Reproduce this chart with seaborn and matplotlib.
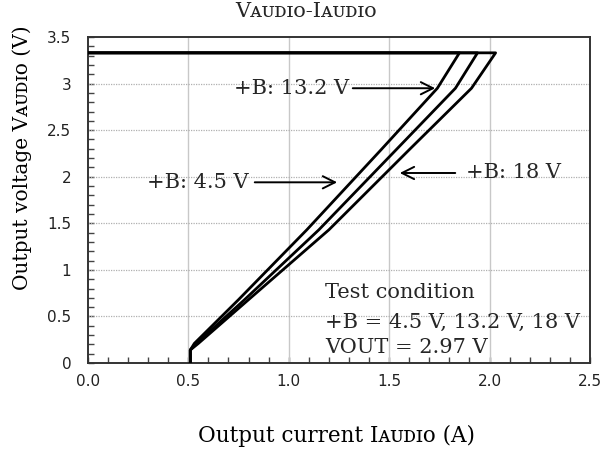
import numpy as np
import pandas as pd
import matplotlib
matplotlib.use("Agg")
import matplotlib.pyplot as plt
import seaborn as sns
from matplotlib.ticker import MultipleLocator, FixedLocator

# ---- data ----
supply_labels = ["+B: 4.5 V", "+B: 13.2 V", "+B: 18 V"]
voltage_v = [3.33, 3.33, 2.95, 2.29, 1.43, 0.68, 0.21, 0.14, 0.0]
current_45 = [0.0, 1.85, 1.74, 1.46, 1.09, 0.75, 0.53, 0.51, 0.51]
current_132 = [0.0, 1.94, 1.83, 1.535, 1.15, 0.78, 0.54, 0.51, 0.51]
current_18 = [0.0, 2.03, 1.91, 1.60, 1.20, 0.80, 0.55, 0.51, 0.51]
x_ticks = [0.0, 0.5, 1.0, 1.5, 2.0, 2.5]
x_tick_labels = ["0.0", "0.5", "1.0", "1.5", "2.0", "2.5"]
y_ticks = [0, 0.5, 1, 1.5, 2, 2.5, 3, 3.5]
y_tick_labels = ["0", "0.5", "1", "1.5", "2", "2.5", "3", "3.5"]

rows = []
for lab, cur in zip(supply_labels, [current_45, current_132, current_18]):
    for i, (c, v) in enumerate(zip(cur, voltage_v)):
        rows.append({"supply": lab, "order": i, "current": c, "voltage": v})
df = pd.DataFrame(rows)

sns.set_theme(style="white")
plt.rcParams["font.family"] = ["DejaVu Sans"]

fig = plt.figure(figsize=(6.06, 4.54), dpi=100)
ax = fig.add_axes([0.145, 0.2004, 0.8286, 0.7181])

sns.lineplot(data=df, x="current", y="voltage", hue="supply", units="supply",
             estimator=None, sort=False, palette=["black"] * 3, legend=False,
             linewidth=2.0, ax=ax, zorder=3)

ax.set_xlim(0, 2.5)
ax.set_ylim(0, 3.5)
ax.xaxis.set_major_locator(FixedLocator(x_ticks))
ax.yaxis.set_major_locator(FixedLocator(y_ticks))
ax.set_xticklabels(x_tick_labels)
ax.set_yticklabels(y_tick_labels)
ax.xaxis.set_minor_locator(MultipleLocator(0.1))
ax.yaxis.set_minor_locator(MultipleLocator(0.1))
ax.tick_params(axis="both", which="both", direction="in", length=4, width=1,
               color="#444444", bottom=True, left=True)
ax.tick_params(axis="y", which="major", pad=12, labelsize=11, labelcolor="#222222")
ax.tick_params(axis="x", which="major", pad=8, labelsize=11, labelcolor="#222222")

ax.grid(False)
for xv in x_ticks[1:-1]:
    ax.axvline(xv, color="#c8c8c8", lw=1.0, zorder=1)
for yv in y_ticks[1:-1]:
    ax.axhline(yv, color="#b0b0b0", lw=0.9, ls=(0, (1, 1)), zorder=1)

for s in ax.spines.values():
    s.set_color("#333333")
    s.set_linewidth(1.4)

serif = ["DejaVu Serif"]
ax.set_xlabel("Output current I\u1d00\u1d1c\u1d05\u026a\u1d0f (A)", family=serif, fontsize=15.5, color="black")
ax.set_ylabel("Output voltage V\u1d00\u1d1c\u1d05\u026a\u1d0f (V)", family=serif, fontsize=14.5, color="black")
ax.xaxis.set_label_coords(0.496, -0.19)
ax.yaxis.set_label_coords(-0.112, 0.63)

fig.text(0.505, 0.962, "V\u1d00\u1d1c\u1d05\u026a\u1d0f-I\u1d00\u1d1c\u1d05\u026a\u1d0f", family=serif,
         fontsize=15, ha="center", va="baseline")

arrow_kw = dict(arrowstyle="->", color="black", lw=1.4, mutation_scale=22)
fs = 15
ax.annotate("", xy=(1.743, 2.95), xytext=(1.305, 2.95), arrowprops=arrow_kw)
ax.text(1.30, 2.95, supply_labels[1], family=serif, fontsize=fs, ha="right", va="center")
ax.annotate("", xy=(1.255, 1.94), xytext=(0.817, 1.94), arrowprops=arrow_kw)
ax.text(0.80, 1.94, supply_labels[0], family=serif, fontsize=fs, ha="right", va="center")
ax.annotate("", xy=(1.539, 2.04), xytext=(1.843, 2.04), arrowprops=arrow_kw)
ax.text(1.885, 2.04, supply_labels[2], family=serif, fontsize=fs, ha="left", va="center")

ax.text(1.18, 0.76, "Test condition", family=serif, fontsize=fs, ha="left", va="center")
ax.text(1.18, 0.44, "+B = 4.5 V, 13.2 V, 18 V", family=serif, fontsize=fs, ha="left", va="center")
ax.text(1.18, 0.17, "VOUT = 2.97 V", family=serif, fontsize=fs, ha="left", va="center")

fig.savefig("out.png", dpi=100)
